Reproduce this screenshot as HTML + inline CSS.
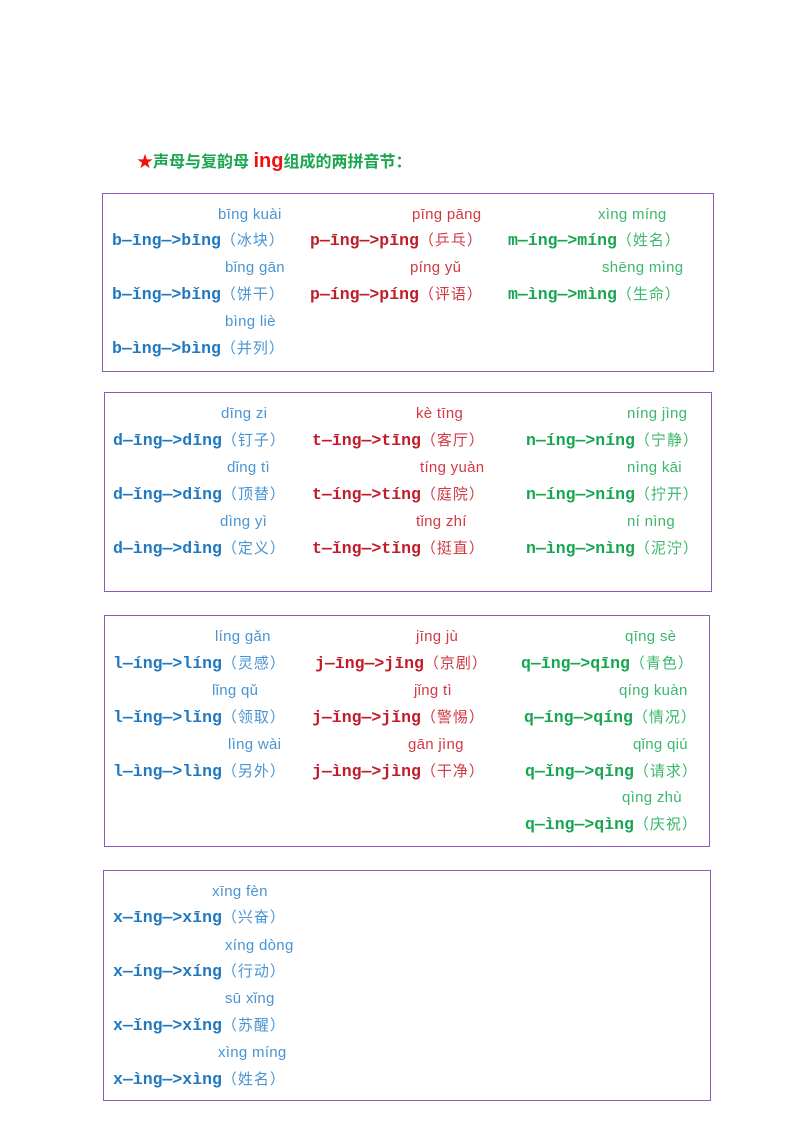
<!DOCTYPE html>
<html><head><meta charset="utf-8"><style>
body{margin:0;width:800px;height:1132px;background:#fff;position:relative;overflow:hidden;font-family:"Liberation Sans","Noto Sans CJK SC",sans-serif}
.box{position:absolute;border:1.5px solid #8a5cb8;box-sizing:border-box}
.p,.f{position:absolute;white-space:nowrap;line-height:20px}
.p{font-size:15px;letter-spacing:0.3px}
.f{font-family:"Liberation Mono","Noto Sans CJK SC",monospace;font-weight:bold;font-size:16.5px}
.f span{font-family:"Liberation Sans","Noto Sans CJK SC",sans-serif;font-weight:normal;font-size:15px;letter-spacing:1px}
.b{color:#1f78c0}.b.p,.b span{color:#4a94d2}
.r{color:#c01c2a}.r.p,.r span{color:#d03a44}
.g{color:#17a650}.g.p,.g span{color:#3cb86c}
</style></head><body>
<div style="position:absolute;left:137px;top:148px;font-size:16px;font-weight:bold;color:#1aa64f;white-space:nowrap"><span style="color:#f01010">★</span>声母与复韵母 <span style="color:#f01010;font-size:20px">ing</span>组成的两拼音节：</div>

<div class="box" style="left:102px;top:193px;width:612px;height:179px"></div>
<div class="box" style="left:104px;top:392px;width:608px;height:200px"></div>
<div class="box" style="left:104px;top:615px;width:606px;height:232px"></div>
<div class="box" style="left:103px;top:870px;width:608px;height:231px"></div>

<div class="p b" style="left:218px;top:205px">bīng kuài</div>
<div class="p r" style="left:412px;top:205px">pīng pāng</div>
<div class="p g" style="left:598px;top:205px">xìng míng</div>
<div class="f b" style="left:112px;top:231px">b—īng—>bīng<span>（冰块）</span></div>
<div class="f r" style="left:310px;top:231px">p—īng—>pīng<span>（乒乓）</span></div>
<div class="f g" style="left:508px;top:231px">m—íng—>míng<span>（姓名）</span></div>
<div class="p b" style="left:225px;top:258px">bǐng gān</div>
<div class="p r" style="left:410px;top:258px">píng yǔ</div>
<div class="p g" style="left:602px;top:258px">shēng mìng</div>
<div class="f b" style="left:112px;top:285px">b—ǐng—>bǐng<span>（饼干）</span></div>
<div class="f r" style="left:310px;top:285px">p—íng—>píng<span>（评语）</span></div>
<div class="f g" style="left:508px;top:285px">m—ìng—>mìng<span>（生命）</span></div>
<div class="p b" style="left:225px;top:312px">bìng liè</div>
<div class="f b" style="left:112px;top:339px">b—ìng—>bìng<span>（并列）</span></div>

<div class="p b" style="left:221px;top:404px">dīng zi</div>
<div class="p r" style="left:416px;top:404px">kè tīng</div>
<div class="p g" style="left:627px;top:404px">níng jìng</div>
<div class="f b" style="left:113px;top:431px">d—īng—>dīng<span>（钉子）</span></div>
<div class="f r" style="left:312px;top:431px">t—īng—>tīng<span>（客厅）</span></div>
<div class="f g" style="left:526px;top:431px">n—íng—>níng<span>（宁静）</span></div>
<div class="p b" style="left:227px;top:458px">dǐng tì</div>
<div class="p r" style="left:420px;top:458px">tíng yuàn</div>
<div class="p g" style="left:627px;top:458px">nìng kāi</div>
<div class="f b" style="left:113px;top:485px">d—ǐng—>dǐng<span>（顶替）</span></div>
<div class="f r" style="left:312px;top:485px">t—íng—>tíng<span>（庭院）</span></div>
<div class="f g" style="left:526px;top:485px">n—íng—>níng<span>（拧开）</span></div>
<div class="p b" style="left:220px;top:512px">dìng yì</div>
<div class="p r" style="left:416px;top:512px">tǐng zhí</div>
<div class="p g" style="left:627px;top:512px">ní nìng</div>
<div class="f b" style="left:113px;top:539px">d—ìng—>dìng<span>（定义）</span></div>
<div class="f r" style="left:312px;top:539px">t—ǐng—>tǐng<span>（挺直）</span></div>
<div class="f g" style="left:526px;top:539px">n—ìng—>nìng<span>（泥泞）</span></div>

<div class="p b" style="left:215px;top:627px">líng gǎn</div>
<div class="p r" style="left:416px;top:627px">jīng jù</div>
<div class="p g" style="left:625px;top:627px">qīng sè</div>
<div class="f b" style="left:113px;top:654px">l—íng—>líng<span>（灵感）</span></div>
<div class="f r" style="left:315px;top:654px">j—īng—>jīng<span>（京剧）</span></div>
<div class="f g" style="left:521px;top:654px">q—īng—>qīng<span>（青色）</span></div>
<div class="p b" style="left:212px;top:681px">lǐng qǔ</div>
<div class="p r" style="left:414px;top:681px">jǐng tì</div>
<div class="p g" style="left:619px;top:681px">qíng kuàn</div>
<div class="f b" style="left:113px;top:708px">l—ǐng—>lǐng<span>（领取）</span></div>
<div class="f r" style="left:312px;top:708px">j—ǐng—>jǐng<span>（警惕）</span></div>
<div class="f g" style="left:524px;top:708px">q—íng—>qíng<span>（情况）</span></div>
<div class="p b" style="left:228px;top:735px">lìng wài</div>
<div class="p r" style="left:408px;top:735px">gān jìng</div>
<div class="p g" style="left:633px;top:735px">qǐng qiú</div>
<div class="f b" style="left:113px;top:762px">l—ìng—>lìng<span>（另外）</span></div>
<div class="f r" style="left:312px;top:762px">j—ìng—>jìng<span>（干净）</span></div>
<div class="f g" style="left:525px;top:762px">q—ǐng—>qǐng<span>（请求）</span></div>
<div class="p g" style="left:622px;top:788px">qìng zhù</div>
<div class="f g" style="left:525px;top:815px">q—ìng—>qìng<span>（庆祝）</span></div>

<div class="p b" style="left:212px;top:882px">xīng fèn</div>
<div class="f b" style="left:113px;top:908px">x—īng—>xīng<span>（兴奋）</span></div>
<div class="p b" style="left:225px;top:936px">xíng dòng</div>
<div class="f b" style="left:113px;top:962px">x—íng—>xíng<span>（行动）</span></div>
<div class="p b" style="left:225px;top:989px">sū xǐng</div>
<div class="f b" style="left:113px;top:1016px">x—ǐng—>xǐng<span>（苏醒）</span></div>
<div class="p b" style="left:218px;top:1043px">xìng míng</div>
<div class="f b" style="left:113px;top:1070px">x—ìng—>xìng<span>（姓名）</span></div>
</body></html>
